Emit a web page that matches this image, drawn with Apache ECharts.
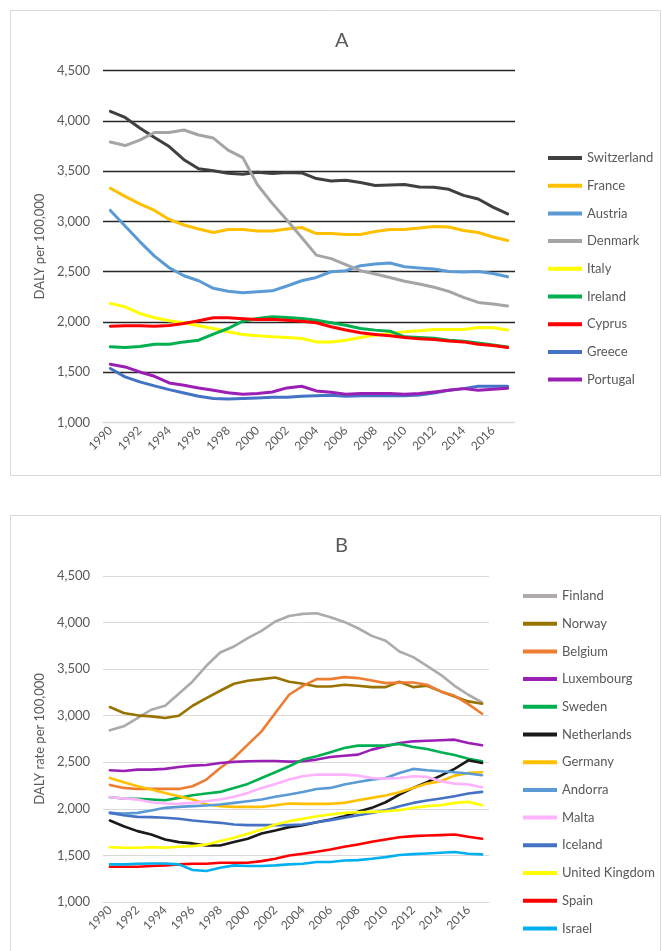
<!DOCTYPE html>
<html>
<head>
<meta charset="utf-8">
<script src="https://cdn.jsdelivr.net/npm/echarts@6/dist/echarts.min.js"></script>
<style>
  html, body { margin: 0; padding: 0; background: #fff; }
  #container { width: 662px; height: 951px; }
</style>
</head>
<body>
<div id="container"></div>
<script>
// years on the x axis (both panels)
var years = [];
for (var y = 1990; y <= 2017; y++) { years.push(String(y)); }

var yTicks = [1000, 4500, 500]; // min, max, step

// panel A
var switzerland = [4095, 4035, 3930, 3835, 3745, 3615, 3525, 3505, 3480, 3470, 3490, 3478, 3487, 3483, 3427, 3403, 3410, 3387, 3357, 3363, 3367, 3343, 3340, 3320, 3260, 3223, 3143, 3075];
var france = [3330, 3250, 3175, 3110, 3020, 2965, 2925, 2890, 2920, 2920, 2905, 2905, 2925, 2940, 2880, 2880, 2870, 2870, 2900, 2920, 2920, 2935, 2950, 2945, 2910, 2890, 2845, 2810];
var austria = [3110, 2955, 2800, 2655, 2540, 2460, 2410, 2335, 2305, 2290, 2302, 2310, 2358, 2410, 2443, 2500, 2510, 2560, 2577, 2587, 2550, 2537, 2527, 2503, 2497, 2503, 2483, 2450];
var denmark = [3790, 3755, 3810, 3885, 3885, 3910, 3860, 3830, 3710, 3635, 3365, 3180, 3015, 2840, 2665, 2630, 2570, 2510, 2478, 2443, 2405, 2378, 2345, 2305, 2245, 2195, 2178, 2160];
var italy = [2185, 2150, 2085, 2042, 2012, 1992, 1962, 1935, 1902, 1876, 1862, 1852, 1846, 1836, 1802, 1802, 1819, 1846, 1869, 1886, 1902, 1912, 1925, 1925, 1925, 1945, 1942, 1920];
var ireland = [1753, 1746, 1756, 1779, 1779, 1802, 1819, 1879, 1935, 2008, 2035, 2052, 2045, 2035, 2018, 1992, 1968, 1935, 1919, 1909, 1852, 1846, 1839, 1819, 1809, 1792, 1772, 1752];
var cyprus = [1958, 1962, 1962, 1958, 1965, 1985, 2012, 2042, 2042, 2032, 2025, 2028, 2018, 2008, 1992, 1952, 1920, 1892, 1876, 1862, 1846, 1832, 1826, 1812, 1802, 1779, 1766, 1746];
var greece = [1537, 1454, 1404, 1364, 1327, 1294, 1261, 1238, 1234, 1238, 1244, 1251, 1251, 1261, 1267, 1271, 1261, 1267, 1267, 1267, 1267, 1274, 1294, 1321, 1337, 1361, 1361, 1361];
var portugal = [1580, 1553, 1503, 1460, 1394, 1371, 1344, 1321, 1297, 1281, 1288, 1304, 1344, 1361, 1314, 1300, 1281, 1288, 1288, 1288, 1281, 1288, 1304, 1321, 1337, 1321, 1331, 1341];

// panel B
var finland = [2843, 2886, 2975, 3064, 3107, 3236, 3368, 3536, 3679, 3743, 3832, 3911, 4011, 4071, 4093, 4100, 4057, 4007, 3939, 3857, 3804, 3689, 3629, 3536, 3439, 3321, 3225, 3143];
var norway = [3093, 3029, 3004, 2993, 2975, 3000, 3107, 3189, 3268, 3343, 3375, 3393, 3411, 3364, 3343, 3314, 3314, 3332, 3321, 3307, 3307, 3364, 3307, 3321, 3261, 3207, 3154, 3129];
var belgium = [2257, 2225, 2214, 2214, 2214, 2214, 2243, 2314, 2439, 2546, 2689, 2832, 3029, 3225, 3321, 3393, 3393, 3414, 3404, 3379, 3350, 3357, 3357, 3332, 3261, 3214, 3125, 3021];
var luxembourg = [2414, 2407, 2421, 2421, 2429, 2450, 2464, 2471, 2493, 2504, 2511, 2514, 2514, 2507, 2511, 2529, 2557, 2571, 2582, 2636, 2671, 2707, 2725, 2732, 2736, 2743, 2707, 2682];
var sweden = [2125, 2111, 2107, 2100, 2093, 2118, 2146, 2164, 2182, 2225, 2268, 2332, 2393, 2457, 2529, 2564, 2607, 2654, 2679, 2679, 2682, 2696, 2664, 2643, 2607, 2579, 2539, 2510];
var netherlands = [1875, 1814, 1761, 1725, 1671, 1643, 1629, 1607, 1607, 1643, 1679, 1736, 1768, 1804, 1825, 1857, 1886, 1921, 1968, 2011, 2071, 2154, 2225, 2286, 2357, 2429, 2521, 2493];
var germany = [2332, 2286, 2243, 2207, 2171, 2136, 2100, 2046, 2029, 2021, 2021, 2021, 2039, 2057, 2054, 2054, 2054, 2064, 2093, 2118, 2143, 2179, 2225, 2271, 2296, 2357, 2386, 2393];
var andorra = [1957, 1950, 1957, 1982, 2011, 2021, 2029, 2036, 2046, 2064, 2082, 2100, 2129, 2154, 2182, 2214, 2225, 2261, 2289, 2314, 2332, 2386, 2429, 2414, 2404, 2393, 2379, 2361];
var malta = [2125, 2111, 2100, 2071, 2057, 2054, 2064, 2082, 2100, 2129, 2171, 2225, 2268, 2314, 2350, 2368, 2368, 2368, 2357, 2332, 2325, 2332, 2350, 2343, 2296, 2271, 2261, 2232];
var iceland = [1957, 1932, 1914, 1911, 1904, 1893, 1875, 1861, 1850, 1832, 1825, 1825, 1825, 1825, 1832, 1857, 1879, 1904, 1932, 1957, 1986, 2029, 2064, 2089, 2111, 2136, 2164, 2182];
var unitedKingdom = [1589, 1582, 1582, 1589, 1582, 1593, 1600, 1618, 1654, 1689, 1732, 1779, 1832, 1868, 1893, 1921, 1939, 1957, 1964, 1968, 1975, 1986, 2011, 2029, 2039, 2064, 2075, 2039];
var spain = [1379, 1379, 1379, 1386, 1393, 1404, 1411, 1411, 1421, 1421, 1421, 1439, 1464, 1500, 1518, 1539, 1564, 1593, 1618, 1646, 1671, 1696, 1707, 1714, 1718, 1725, 1700, 1679];
var israel = [1404, 1404, 1411, 1414, 1414, 1404, 1343, 1332, 1368, 1393, 1386, 1386, 1393, 1404, 1411, 1429, 1429, 1446, 1450, 1464, 1482, 1504, 1514, 1521, 1529, 1536, 1518, 1511];

var seriesA = [
    ['Switzerland', switzerland, '#404040'],
    ['France', france, '#FFC000'],
    ['Austria', austria, '#5B9BD5'],
    ['Denmark', denmark, '#A5A5A5'],
    ['Italy', italy, '#FFFF00'],
    ['Ireland', ireland, '#00B050'],
    ['Cyprus', cyprus, '#FF0000'],
    ['Greece', greece, '#4472C4'],
    ['Portugal', portugal, '#9C1FB5']
];
var seriesB = [
    ['Finland', finland, '#AEAAAA'],
    ['Norway', norway, '#997300'],
    ['Belgium', belgium, '#ED7D31'],
    ['Luxembourg', luxembourg, '#9C1FB5'],
    ['Sweden', sweden, '#00B050'],
    ['Netherlands', netherlands, '#1A1A1A'],
    ['Germany', germany, '#FFC000'],
    ['Andorra', andorra, '#5B9BD5'],
    ['Malta', malta, '#FFB3FF'],
    ['Iceland', iceland, '#4472C4'],
    ['United Kingdom', unitedKingdom, '#FFFF00'],
    ['Spain', spain, '#FF0000'],
    ['Israel', israel, '#00B0F0']
];

var FONT = 'Lato';
var TXT = '#595959';

function xAxisCfg(idx){
    return {
        type: 'category', gridIndex: idx, data: years, boundaryGap: true,
        axisLine: { show: true, lineStyle: { color: '#D9D9D9', width: 1 } },
        axisTick: { show: false },
        axisLabel: { interval: 1, rotate: 45, color: TXT, fontSize: 12, fontFamily: FONT, margin: 6 }
    };
}

function yAxisCfg(idx, name, gridColor){
    return {
        type: 'value', gridIndex: idx, min: yTicks[0], max: yTicks[1], interval: yTicks[2],
        name: name, nameLocation: 'middle', nameGap: 56,
        nameTextStyle: { color: TXT, fontSize: 13, fontFamily: FONT },
        axisLine: { show: false }, axisTick: { show: false },
        axisLabel: {
            color: TXT, fontSize: 13, fontFamily: FONT, margin: 13,
            formatter: function(v){ return v.toLocaleString('en-US'); }
        },
        splitLine: { show: true, lineStyle: { color: gridColor, width: idx === 0 ? 1.3 : 1 } }
    };
}

function buildSeries(list, idx, w){
    var out = [];
    for (var i = 0; i < list.length; i++) {
        out.push({
            name: list[i][0], type: 'line', xAxisIndex: idx, yAxisIndex: idx,
            data: list[i][1], symbol: 'none', smooth: false,
            lineStyle: { color: list[i][2], width: w, join: 'round', cap: 'round' },
            itemStyle: { color: list[i][2] },
            animation: false
        });
    }
    return out;
}

function legendCfg(list, left, top){
    return {
        orient: 'vertical', left: left, top: top,
        data: list.map(function(s){ return s[0]; }),
        itemWidth: 34, itemHeight: 14, itemGap: 13.7,
        icon: 'rect',
        textStyle: { color: TXT, fontSize: 13, fontFamily: FONT, lineHeight: 14 },
        selectedMode: false
    };
}

var dom = document.getElementById('container');
var myChart = echarts.init(dom, null, { renderer: 'canvas' });

// excel style: the 1,000 line is the light axis, the rest dark in A
var gridColA = ['#D9D9D9', '#262626', '#262626', '#262626', '#262626', '#262626', '#262626', '#262626'];

var legA = legendCfg(seriesA, 543, 146);
var legB = legendCfg(seriesB, 518, 584);
legA.icon = legB.icon = 'path://M0,6 L34,6 L34,10 L0,10 Z';

var option = {
    backgroundColor: '#fff',
    animation: false,
    title: [
        { text: 'A', left: 330, top: 26, textStyle: { color: TXT, fontSize: 20, fontWeight: 'normal', fontFamily: FONT } },
        { text: 'B', left: 330, top: 531, textStyle: { color: TXT, fontSize: 20, fontWeight: 'normal', fontFamily: FONT } }
    ],
    graphic: [
        { type: 'rect', shape: { x: 10.5, y: 10.5, width: 650, height: 465 }, style: { fill: 'none', stroke: '#D9D9D9', lineWidth: 1 }, silent: true },
        { type: 'rect', shape: { x: 10.5, y: 515.5, width: 650, height: 450 }, style: { fill: 'none', stroke: '#D9D9D9', lineWidth: 1 }, silent: true }
    ],
    grid: [
        { left: 103, top: 70.7, width: 412, height: 351.8 },
        { left: 103, top: 576, width: 386, height: 326 }
    ],
    legend: [legA, legB],
    xAxis: [xAxisCfg(0), xAxisCfg(1)],
    yAxis: [yAxisCfg(0, 'DALY per 100,000', gridColA), yAxisCfg(1, 'DALY rate per 100,000', '#D9D9D9')],
    series: buildSeries(seriesA, 0, 3).concat(buildSeries(seriesB, 1, 2.6))
};

if (option && typeof option === "object") {
    myChart.setOption(option, true);
}
</script>
</body>
</html>
